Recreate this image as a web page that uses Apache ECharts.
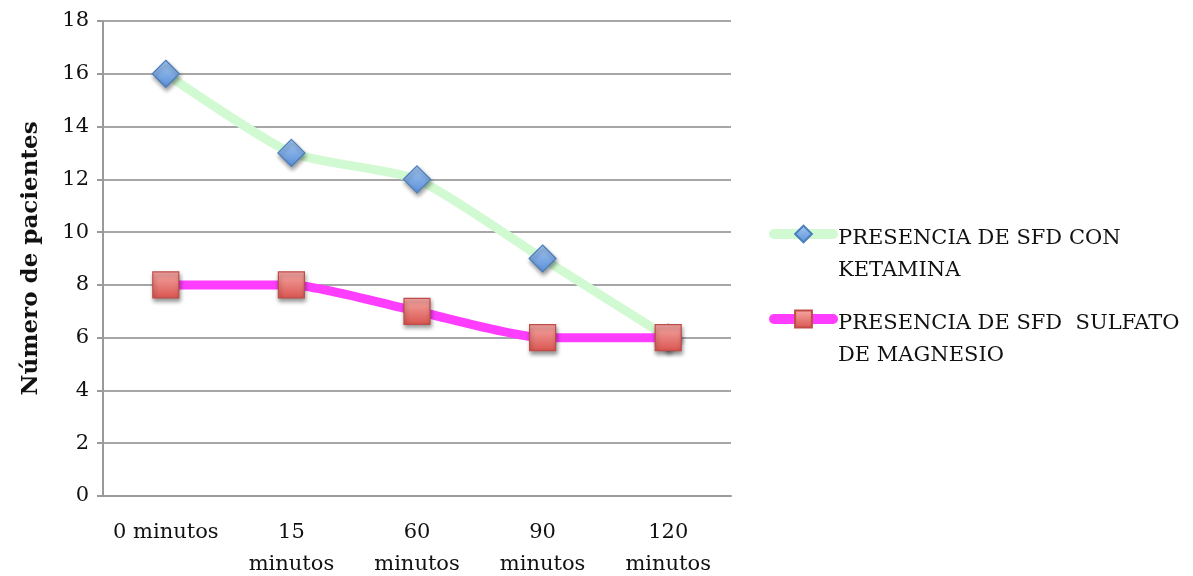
<!DOCTYPE html>
<html>
<head>
<meta charset="utf-8">
<script src="https://cdn.jsdelivr.net/npm/echarts@6/dist/echarts.min.js"></script>
<style>
  html, body { margin: 0; padding: 0; background: #ffffff; }
  #chart { width: 1193px; height: 576px; }
</style>
</head>
<body>
<div id="chart"></div>
<script>
// Time points after administration
const categories = ['0 minutos', '15\nminutos', '60\nminutos', '90\nminutos', '120\nminutos'];
// Patients with the symptom at each time point
const ketamina = [16, 13, 12, 9, 6];
const magnesio = [8, 8, 7, 6, 6];
const seriesNames = ['PRESENCIA DE SFD CON KETAMINA', 'PRESENCIA DE SFD  SULFATO DE MAGNESIO'];
const legendLines = [
  ['PRESENCIA DE SFD CON', 'KETAMINA'],
  ['PRESENCIA DE SFD  SULFATO', 'DE MAGNESIO']
];
const yTicks = { min: 0, max: 18, interval: 2 };

const FONT = 'DejaVu Serif';

const chart = echarts.init(document.getElementById('chart'), null, { renderer: 'canvas' });

// One legend block per series; a spacer line pushes the first text line
// down so it sits level with the icon.
function legendFor(i, top) {
  return {
    data: [seriesNames[i]],
    orient: 'vertical',
    left: 769,
    top: top,
    padding: 0,
    itemWidth: 59,
    itemHeight: 21,
    itemGap: 0,
    lineStyle: { width: 10, cap: 'round' },
    formatter: () => '{s| }\n{a|' + legendLines[i][0] + '}\n{a|' + legendLines[i][1] + '}',
    textStyle: {
      fontFamily: FONT,
      fontSize: 21,
      color: '#111',
      rich: {
        s: { fontSize: 10, lineHeight: 42 },
        a: { fontFamily: FONT, fontSize: 21, color: '#111', lineHeight: 32 }
      }
    }
  };
}

chart.setOption({
  animation: false,
  backgroundColor: '#ffffff',
  grid: { left: 103, right: 462, top: 21, bottom: 80, containLabel: false, outerBoundsMode: 'none' },
  legend: [legendFor(0, 197), legendFor(1, 282)],
  xAxis: {
    type: 'category',
    data: categories,
    boundaryGap: true,
    axisLine: { show: true, lineStyle: { color: '#9a9a9a', width: 2 } },
    axisTick: { show: false },
    axisLabel: {
      fontFamily: FONT,
      fontSize: 21,
      color: '#111',
      lineHeight: 32,
      margin: 21,
      interval: 0
    }
  },
  yAxis: {
    type: 'value',
    min: yTicks.min,
    max: yTicks.max,
    interval: yTicks.interval,
    name: 'Número de pacientes',
    nameLocation: 'middle',
    nameGap: 60,
    nameTextStyle: { fontFamily: FONT, fontSize: 23, fontWeight: 'bold', color: '#111' },
    axisLine: { show: true, lineStyle: { color: '#9a9a9a', width: 2 } },
    axisTick: { show: true, length: 6, lineStyle: { color: '#9a9a9a', width: 2 } },
    axisLabel: { fontFamily: FONT, fontSize: 21, color: '#111', margin: 14 },
    splitLine: { show: true, lineStyle: { color: '#a6a6a6', width: 2 } }
  },
  series: [
    {
      name: seriesNames[0],
      type: 'line',
      data: ketamina,
      smooth: 0.2,
      symbol: 'diamond',
      symbolSize: [27, 27],
      lineStyle: { color: '#d2fad2', width: 9 },
      itemStyle: {
        color: new echarts.graphic.LinearGradient(0, 0, 0, 1, [
          { offset: 0, color: '#a6c9f2' },
          { offset: 1, color: '#5a8fd8' }
        ]),
        borderColor: '#4a7ebb',
        borderWidth: 1.2,
        shadowColor: 'rgba(0,0,0,0.4)',
        shadowBlur: 4,
        shadowOffsetX: 1,
        shadowOffsetY: 3
      },
      z: 3
    },
    {
      name: seriesNames[1],
      type: 'line',
      data: magnesio,
      smooth: 0.2,
      symbol: 'rect',
      symbolSize: [26, 26],
      lineStyle: { color: '#ff3dff', width: 9 },
      itemStyle: {
        color: new echarts.graphic.LinearGradient(0, 0, 0, 1, [
          { offset: 0, color: '#f6aaa6' },
          { offset: 1, color: '#d9544f' }
        ]),
        borderColor: '#bf4c48',
        borderWidth: 1.2,
        shadowColor: 'rgba(0,0,0,0.4)',
        shadowBlur: 4,
        shadowOffsetX: 1,
        shadowOffsetY: 3
      },
      z: 4
    }
  ]
});
</script>
</body>
</html>
